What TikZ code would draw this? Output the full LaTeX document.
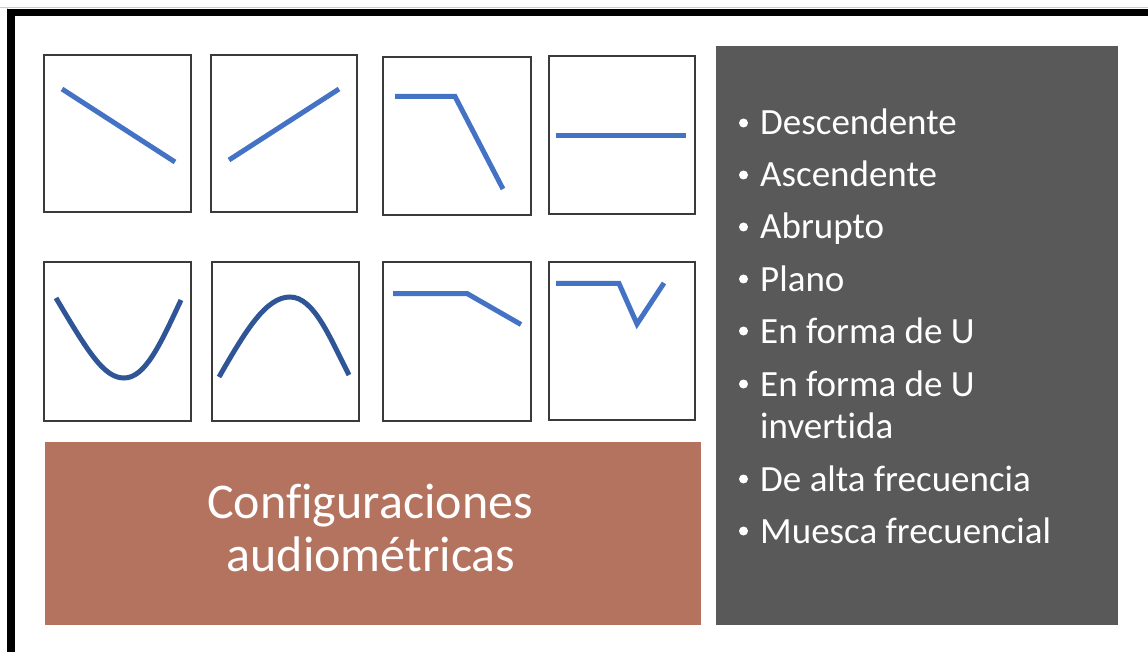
\documentclass[tikz,border=0pt]{standalone}
\usepackage{fontspec}
\setmainfont{Carlito}[Ligatures=NoCommon]
\definecolor{lblue}{HTML}{4472C4}
\definecolor{dblue}{HTML}{2F5597}
\definecolor{brick}{HTML}{B3735F}
\definecolor{panel}{HTML}{595959}
\definecolor{frame}{HTML}{3A3A3A}
\begin{document}
\begin{tikzpicture}[x=1pt,y=-1pt,
  gbox/.style={draw=frame,line width=1.3pt,fill=white},
  curveL/.style={draw=lblue,line width=5pt},
  curveD/.style={draw=dblue,line width=5pt},
  itemtxt/.style={anchor=base west,inner sep=0pt,text=white,font=\fontsize{37}{42}\selectfont},
  dot/.style={fill=white,circle,inner sep=0pt,minimum size=9pt}]
\useasboundingbox (0,0) rectangle (1148,652);
\fill[white] (0,0) rectangle (1148,652);
% outer frame
\draw[gray!40,line width=1pt] (0,8) -- (1148,8);
\draw[gray!40,line width=1pt] (7,8) -- (7,652);
\fill[black] (7,9) rectangle (1148,16.5);
\fill[black] (7,9) rectangle (15,652);
% thumbnail boxes
\draw[gbox] (44,55) rectangle (191,212);
\draw[gbox] (211,55) rectangle (357,212);
\draw[gbox] (383,57) rectangle (531,215);
\draw[gbox] (549,56) rectangle (695,214);
\draw[gbox] (44,262) rectangle (191,421);
\draw[gbox] (212,262) rectangle (359,421);
\draw[gbox] (383,262) rectangle (531,421);
\draw[gbox] (549,262) rectangle (695,420);
% curves
\draw[curveL] (62,89) -- (175,162);
\draw[curveL] (229,160) -- (339,89);
\draw[curveL] (395,96.5) -- (455,96.5) -- (503,189);
\draw[curveL] (556,135.5) -- (686,135.5);
\draw[curveD] (56,298) .. controls (88,352) and (104,378) .. (124,378) .. controls (145,378) and (160,345) .. (181,300);
\draw[curveD] (219,377) .. controls (246,330) and (266,297) .. (290,297) .. controls (314,297) and (330,338) .. (349,375);
\draw[curveL] (393,293.5) -- (467,293.5) -- (521,324.5);
\draw[curveL] (556,283.5) -- (619,283.5) -- (637,324) -- (664,283);
% title panel
\fill[brick] (45,442) rectangle (701,625);
\node[text=white,font=\fontsize{50}{52}\selectfont,anchor=base,inner sep=0pt] (t1) at (370,518) {Configuraciones};
\node[text=white,font=\fontsize{50}{52}\selectfont,anchor=base,inner sep=0pt] (t2) at (371,571) {audiométricas};
% list panel
\fill[panel] (716,46) rectangle (1118,625);
\foreach \y/\t/\n in {135/Descendente/a,187/Ascendente/b,239/Abrupto/c,291/Plano/d,343/En forma de U/e,396/En forma de U/f,491/De alta frecuencia/h,543/Muesca frecuencial/i}{
  \node[dot] (d\n) at (743.5,\y-12) {};
  \node[itemtxt] (i\n) at (760,\y) {\t};
}
\node[itemtxt] (ig) at (760,438) {invertida};
\end{tikzpicture}
\end{document}
